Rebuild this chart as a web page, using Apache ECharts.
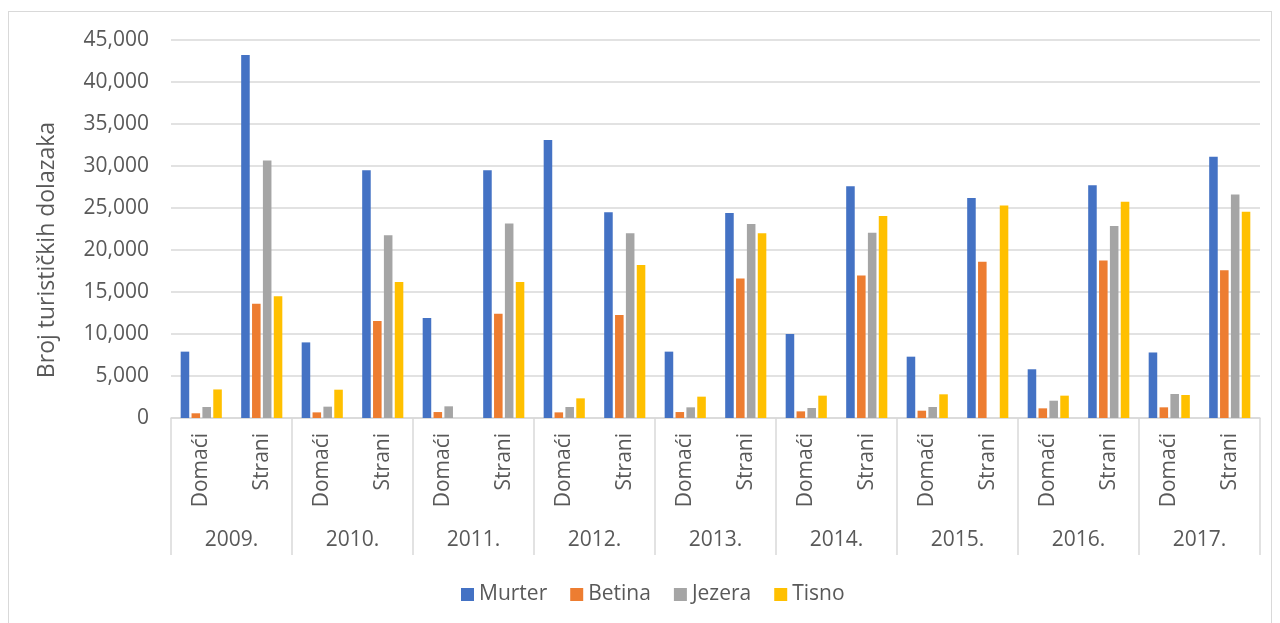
<!DOCTYPE html>
<html>
<head>
<meta charset="utf-8">
<script src="https://cdn.jsdelivr.net/npm/echarts@6/dist/echarts.min.js"></script>
<style>
html,body{margin:0;padding:0;background:#fff;}
#c{width:1280px;height:623px;}
#frame{position:absolute;left:8px;top:11px;width:1262px;height:640px;border:1px solid #d9d9d9;pointer-events:none;}
</style>
</head>
<body>
<div id="c"></div>
<div id="frame"></div>
<script>
const years = ['2009.','2010.','2011.','2012.','2013.','2014.','2015.','2016.','2017.'];
const types = ['Domaći','Strani'];
const categories = [];
years.forEach(() => types.forEach(t => categories.push(t)));

const seriesNames = ['Murter','Betina','Jezera','Tisno'];
const murter = [7900,43200, 9000,29500, 11900,29500, 33100,24500, 7900,24400, 10000,27600, 7300,26200, 5800,27700, 7800,31100];
const betina = [560,13600, 670,11550, 710,12400, 670,12250, 710,16600, 790,16950, 870,18600, 1150,18750, 1270,17600];
const jezera = [1310,30650, 1350,21750, 1390,23150, 1310,22000, 1270,23100, 1190,22050, 1310,0, 2060,22850, 2860,26600];
const tisno  = [3400,14500, 3370,16200, 0,16200, 2340,18200, 2540,22000, 2660,24050, 2820,25300, 2660,25750, 2740,24550];
const colors = ['#4472C4','#ED7D31','#A5A5A5','#FFC000'];
const seriesData = [murter, betina, jezera, tisno];
const yTitle = 'Broj turističkih dolazaka';

const font = 'Open Sans';
const txt = '#595959';
const chart = echarts.init(document.getElementById('c'));
chart.setOption({
  animation: false,
  color: colors,
  grid: {left: 171, right: 20, top: 40, bottom: 205},
  legend: {
    top: 579, left: 456, icon: 'rect', itemWidth: 13, itemHeight: 13, itemGap: 23,
    textStyle: {fontFamily: font, fontSize: 21, color: txt},
    data: seriesNames
  },
  graphic: [{
    type: 'text', x: 47, y: 250, rotation: Math.PI / 2,
    style: {text: yTitle, fontFamily: font, fontSize: 23, fill: txt, align: 'center', verticalAlign: 'middle'}
  }],
  xAxis: [{
    type: 'category', data: categories, position: 'bottom',
    axisLine: {lineStyle: {color: '#d9d9d9', width: 1.5}},
    axisTick: {show: false},
    axisLabel: {rotate: 90, interval: 0, margin: 15, fontFamily: font, fontSize: 21, color: txt}
  }, {
    type: 'category', data: years, position: 'bottom',
    axisLine: {show: false},
    axisTick: {show: true, length: 137, interval: 0, lineStyle: {color: '#d9d9d9', width: 1.5}},
    axisLabel: {interval: 0, margin: 112, fontFamily: font, fontSize: 21, color: txt}
  }],
  yAxis: {
    type: 'value', min: 0, max: 45000, interval: 5000,
    axisLine: {show: false}, axisTick: {show: false},
    splitLine: {lineStyle: {color: '#d9d9d9', width: 1.5}},
    axisLabel: {margin: 22, fontFamily: font, fontSize: 21, color: txt,
      formatter: v => v.toLocaleString('en-US')}
  },
  series: seriesNames.map((n, i) => ({
    name: n, type: 'bar', xAxisIndex: 0, data: seriesData[i],
    barCategoryGap: '32%', barGap: '27%',
    itemStyle: {color: colors[i]}
  }))
});
</script>
</body>
</html>
